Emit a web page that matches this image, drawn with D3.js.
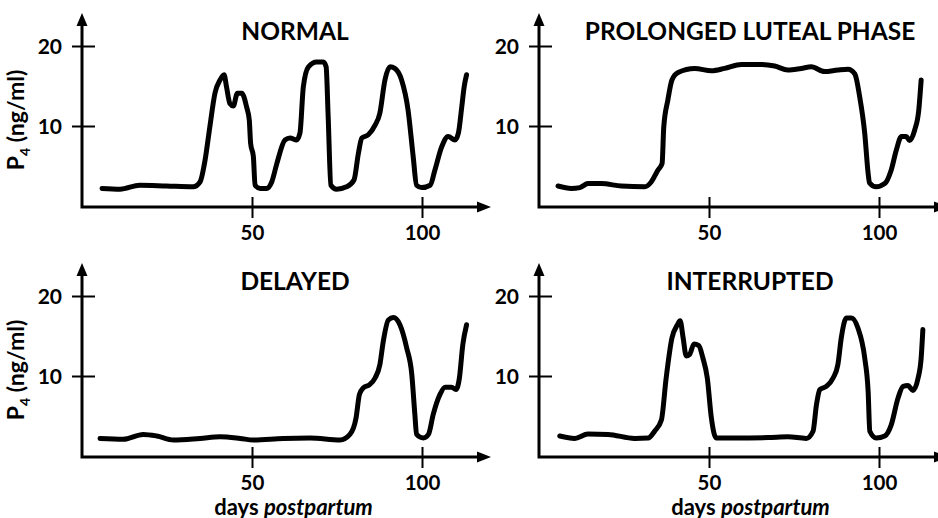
<!DOCTYPE html>
<html>
<head>
<meta charset="utf-8">
<script src="https://cdn.jsdelivr.net/npm/d3@7/dist/d3.min.js"></script>
<style>
  html, body { margin: 0; padding: 0; background: #fff; }
  svg { display: block; font-family: Lato, "Open Sans", sans-serif; font-weight: bold; }
</style>
</head>
<body>
<svg id="chart" width="938" height="518"></svg>
<script>
// ---- Data (days postpartum, P4 ng/ml) ----
const panelTitles = ["NORMAL", "PROLONGED LUTEAL PHASE", "DELAYED", "INTERRUPTED"];
const xTickValues = [50, 100];
const yTickValues = [10, 20];
const yAxisLabel = "P4 (ng/ml)";
const xAxisLabel = "days postpartum";

const normalDays = [5.9, 11.2, 17, 24.9, 32.7, 34.7, 36.2, 37.6, 39.1, 40.6, 41.8, 42.5, 43.5, 44.5, 45.7, 47, 48.4, 49.2, 49.6, 50.4, 50.9, 52.4, 54.3, 55.8, 57.3, 59.7, 61.2, 63.1, 64.1, 65.1, 66.6, 69, 71, 71.8, 72.4, 73.2, 74.9, 77.8, 80, 81.3, 82.3, 84.2, 86.2, 87.6, 89.1, 90.6, 92, 94, 95.9, 97.4, 98.4, 99.9, 102.4, 103.8, 105.8, 107.7, 109.7, 110.7, 111.7, 112.4, 113.1];
const normalP4 = [2.2, 2.1, 2.6, 2.5, 2.4, 3.0, 5.75, 9.9, 14.1, 15.75, 16.4, 14.9, 12.8, 12.5, 14.1, 14.1, 12.4, 10.75, 7.8, 6.2, 2.6, 2.2, 2.2, 3.0, 5.3, 8.25, 8.5, 8.25, 9.1, 14.9, 17.4, 18.0, 18.0, 17.4, 11.2, 2.6, 2.1, 2.4, 3.25, 6.6, 8.5, 8.9, 10.1, 11.6, 15.75, 17.4, 17.2, 15.75, 12, 6.2, 2.6, 2.3, 2.6, 4.5, 7.4, 8.7, 8.25, 9.1, 12.4, 14.9, 16.4];

const prolongedDays = [5.6, 9.5, 12, 14.4, 18.3, 24.2, 31.1, 33, 35, 36.2, 36.7, 37.9, 39.1, 40.9, 45.8, 50.7, 54.6, 59.5, 65.4, 69.3, 73.2, 77.1, 80.1, 84, 87.9, 90.9, 92.9, 94.3, 95.8, 96.8, 97.2, 99.2, 101.7, 103.6, 105.1, 106.6, 108, 109, 110.5, 111.7, 112.4];
const prolongedP4 = [2.5, 2.2, 2.3, 2.8, 2.8, 2.5, 2.4, 3.0, 4.5, 5.3, 9.9, 13.25, 15.75, 16.7, 17.2, 16.9, 17.2, 17.7, 17.7, 17.5, 17.0, 17.2, 17.4, 16.8, 17.0, 17.1, 16.5, 13.7, 9.1, 4.1, 2.9, 2.4, 2.8, 4.5, 7.0, 8.7, 8.7, 8.2, 9.5, 12.0, 15.75];

const delayedDays = [5.3, 12.1, 18, 22, 26.9, 34.7, 40.6, 46.5, 50.4, 59.2, 67.1, 75.9, 78.8, 80.6, 81.6, 82.7, 84.5, 86.2, 87.6, 88.6, 90.1, 91.6, 93.5, 95.5, 97, 97.9, 98.4, 100.4, 101.9, 103.3, 105.3, 106.8, 108.7, 110, 111, 112, 113.1];
const delayedP4 = [2.2, 2.1, 2.7, 2.5, 2.0, 2.2, 2.4, 2.2, 2.0, 2.2, 2.25, 2.0, 2.7, 4.75, 7.7, 8.5, 8.9, 9.75, 11.4, 14.3, 17.0, 17.3, 16.4, 13.5, 10.2, 5.2, 2.7, 2.25, 2.7, 5.2, 7.7, 8.6, 8.6, 8.3, 9.75, 13.9, 16.4];

const interruptedDays = [6.1, 10.5, 14.4, 20.3, 28.1, 32.1, 34, 36, 37.4, 39.1, 40.7, 41.5, 42.4, 43.3, 44.3, 45.6, 47, 48.2, 49.5, 50.7, 52.1, 57.6, 67.4, 73.2, 78.6, 80.6, 81.6, 82.6, 84.5, 86.5, 87.9, 88.9, 90.4, 91.9, 93.8, 95.8, 96.8, 97.3, 99.2, 101.7, 103.6, 105.6, 107.1, 108.5, 110, 111.5, 112.4, 112.9];
const interruptedP4 = [2.5, 2.2, 2.75, 2.7, 2.2, 2.25, 3.1, 4.5, 9.75, 14.75, 16.4, 16.9, 14.75, 12.5, 12.7, 14.0, 13.8, 12.25, 9.75, 4.75, 2.25, 2.25, 2.3, 2.4, 2.2, 3.1, 6.4, 8.3, 8.7, 9.75, 11.4, 14.75, 17.25, 17.25, 16.0, 12.25, 8.1, 3.1, 2.25, 2.5, 3.9, 7.25, 8.7, 8.8, 8.2, 9.75, 12.25, 15.8];

const seriesDays = [normalDays, prolongedDays, delayedDays, interruptedDays];
const seriesP4 = [normalP4, prolongedP4, delayedP4, interruptedP4];

// ---- Layout ----
const svg = d3.select("#chart");
const origins = [[82, 46], [539, 46], [82, 296], [539, 296]]; // position of (day 0, P4 20)
const x = d3.scaleLinear().domain([0, 120]).range([0, 408]);
const y = d3.scaleLinear().domain([0, 20]).range([160, 0]);
const axisY0 = 161;

const line = d3.line()
  .x((d) => x(d[0]))
  .y((d) => y(d[1]))
  .curve(d3.curveMonotoneX);

origins.forEach((o, i) => {
  const g = svg.append("g").attr("transform", `translate(${o[0]},${o[1]})`);
  const leftCol = i % 2 === 0;
  const bottomRow = i >= 2;

  // y axis ticks & labels
  const ya = g.append("g").call(d3.axisLeft(y).tickValues(yTickValues).tickFormat(d3.format("d")).tickSize(0).tickPadding(20));
  ya.select(".domain").remove();
  ya.selectAll(".tick line").attr("x1", -10).attr("x2", 13).attr("stroke", "#000").attr("stroke-width", 2);
  ya.selectAll(".tick text").attr("font-size", 21).attr("font-family", "Lato, sans-serif").attr("font-weight", "bold").attr("fill", "#000").attr("dy", "0.36em");

  // x axis ticks & labels
  const xa = g.append("g").attr("transform", `translate(0,${axisY0})`)
    .call(d3.axisBottom(x).tickValues(xTickValues).tickSize(0).tickPadding(18));
  xa.select(".domain").remove();
  xa.selectAll(".tick line").attr("y1", -10).attr("y2", 11).attr("stroke", "#000").attr("stroke-width", 2);
  xa.selectAll(".tick text").attr("font-size", 20.5).attr("font-family", "Lato, sans-serif").attr("font-weight", "bold").attr("fill", "#000").attr("dy", "0.71em");

  // axis lines with arrows
  g.append("path")
    .attr("d", `M0,-24 L0,${axisY0 + 1.5} M-1.5,${axisY0} L397,${axisY0}`)
    .attr("fill", "none").attr("stroke", "#000").attr("stroke-width", 3);
  g.append("path").attr("d", `M0,-33 L-5.5,-20 L5.5,-20 Z`).attr("fill", "#000");
  g.append("path").attr("d", `M409,${axisY0} L395,${axisY0 - 5.5} L395,${axisY0 + 5.5} Z`).attr("fill", "#000");

  // title
  g.append("text").attr("x", leftCol ? 213 : 211).attr("y", -6)
    .attr("text-anchor", "middle").attr("font-size", 24.5).attr("fill", "#000")
    .text(panelTitles[i]);

  // data line
  const pts = seriesDays[i].map((d, k) => [d, seriesP4[i][k]]);
  g.append("path").datum(pts).attr("d", line)
    .attr("fill", "none").attr("stroke", "#000").attr("stroke-width", 5)
    .attr("stroke-linejoin", "round").attr("stroke-linecap", "round");

  // y axis label on left column
  if (leftCol) {
    const t = g.append("text")
      .attr("transform", `translate(${-58},${74}) rotate(-90)`)
      .attr("text-anchor", "middle").attr("font-size", 23).attr("fill", "#000");
    t.append("tspan").text(yAxisLabel.slice(0, 1));
    t.append("tspan").attr("font-size", 14).attr("dy", 6).text(yAxisLabel.slice(1, 2));
    t.append("tspan").attr("dy", -6).text(yAxisLabel.slice(2));
  }
  // x axis label on bottom row
  if (bottomRow) {
    const parts = xAxisLabel.split(" ");
    const t = g.append("text").attr("x", 211.5).attr("y", 218.5)
      .attr("text-anchor", "middle").attr("font-size", 22).attr("fill", "#000");
    t.append("tspan").text(parts[0] + " ");
    t.append("tspan").attr("font-style", "italic").text(parts[1]);
  }
});
</script>
</body>
</html>
